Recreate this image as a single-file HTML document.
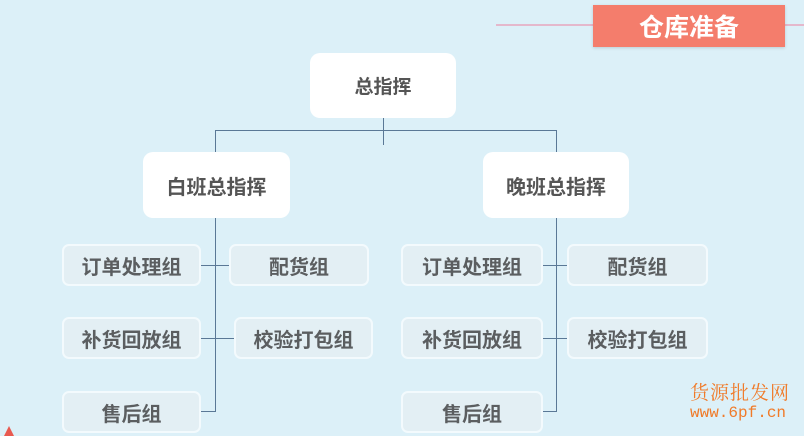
<!DOCTYPE html>
<html><head><meta charset="utf-8"><style>
body{margin:0;width:804px;height:436px;overflow:hidden;background:#dcf0f8;position:relative;font-family:"Liberation Sans","Noto Sans CJK SC",sans-serif}
.a{position:absolute}
.big{position:absolute;background:#fff;border-radius:10px;display:flex;align-items:center;justify-content:center;font-size:19px;color:#555;font-weight:bold}
.sm{position:absolute;background:#e3eff4;border:2px solid #f3fafd;border-radius:7px;display:flex;align-items:center;justify-content:center;font-size:20px;color:#5b5e60;font-weight:bold;box-sizing:border-box;height:42px}
.l{position:absolute;background:#5a7896}
</style></head><body>
<div class="a" style="left:496px;top:24px;width:308px;height:2px;background:#e4b8cc"></div>
<div class="a" style="left:593px;top:5px;width:192px;height:42px;background:#f47d6c;color:#fff;font-size:25px;font-weight:bold;display:flex;align-items:center;justify-content:center;box-shadow:0 1px 3px rgba(0,0,0,.15)">仓库准备</div>

<div class="big" style="left:310px;top:53px;width:146px;height:65px">总指挥</div>
<div class="big" style="left:143px;top:152px;width:147px;height:66px;font-size:20px">白班总指挥</div>
<div class="big" style="left:483px;top:152px;width:146px;height:66px;font-size:20px">晚班总指挥</div>

<div class="l" style="left:383px;top:118px;width:1px;height:27px"></div>
<div class="l" style="left:215px;top:130px;width:342px;height:1px"></div>
<div class="l" style="left:215px;top:130px;width:1px;height:22px"></div>
<div class="l" style="left:556px;top:130px;width:1px;height:22px"></div>
<div class="l" style="left:215px;top:218px;width:1px;height:194px"></div>
<div class="l" style="left:556px;top:218px;width:1px;height:194px"></div>

<div class="l" style="left:200px;top:265px;width:30px;height:1px"></div>
<div class="l" style="left:200px;top:338px;width:35px;height:1px"></div>
<div class="l" style="left:200px;top:411px;width:16px;height:1px"></div>
<div class="l" style="left:543px;top:265px;width:25px;height:1px"></div>
<div class="l" style="left:543px;top:338px;width:25px;height:1px"></div>
<div class="l" style="left:543px;top:411px;width:14px;height:1px"></div>

<div class="sm" style="left:62px;top:244px;width:139px">订单处理组</div>
<div class="sm" style="left:229px;top:244px;width:140px">配货组</div>
<div class="sm" style="left:62px;top:317px;width:139px">补货回放组</div>
<div class="sm" style="left:234px;top:317px;width:139px">校验打包组</div>
<div class="sm" style="left:62px;top:391px;width:139px">售后组</div>

<div class="sm" style="left:401px;top:244px;width:142px">订单处理组</div>
<div class="sm" style="left:567px;top:244px;width:141px">配货组</div>
<div class="sm" style="left:401px;top:317px;width:142px">补货回放组</div>
<div class="sm" style="left:567px;top:317px;width:141px">校验打包组</div>
<div class="sm" style="left:401px;top:391px;width:142px">售后组</div>

<div class="a" style="left:690px;top:378px;font-size:19px;color:#f07a28;letter-spacing:1px;font-family:'Noto Serif CJK SC',serif">货源批发网</div>
<div class="a" style="left:690px;top:404px;font-size:16px;color:#f07a28;font-family:'Liberation Mono',monospace">www.6pf.cn</div>
<div class="a" style="left:4px;top:426px;width:0;height:0;border-left:5px solid transparent;border-right:5px solid transparent;border-bottom:10px solid #e85a50"></div>
</body></html>
